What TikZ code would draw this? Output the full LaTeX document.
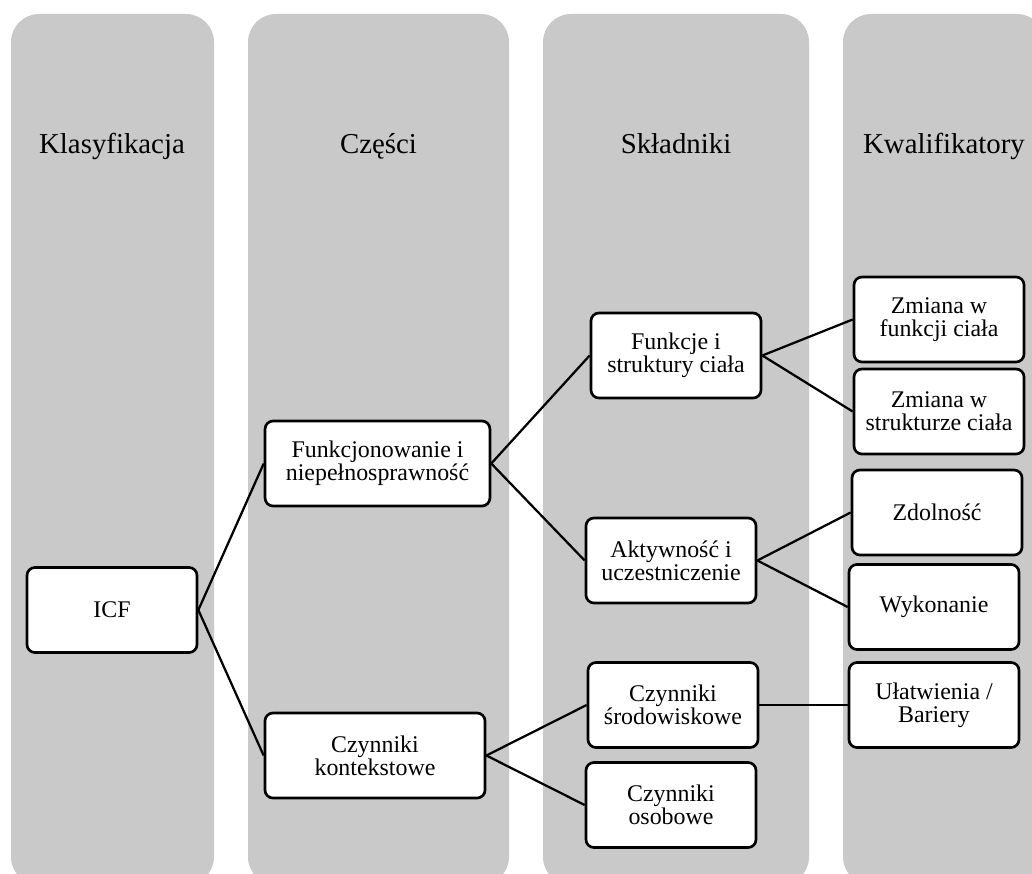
\documentclass[tikz,border=0pt]{standalone}
\usepackage{fontspec}
\setmainfont{Liberation Serif}
\usepackage{tikz}
\definecolor{lanegray}{RGB}{201,201,201}

\begin{document}
\begin{tikzpicture}[x=0.025cm, y=-0.025cm,
                    lane/.style={fill=lanegray, rounded corners=0.7cm},
                    lanetitle/.style={anchor=base, font=\fontsize{20.5}{24}\selectfont},
                    box/.style={draw, line width=1.9pt, fill=white, rounded corners=0.2cm,
                                align=center, minimum width=4.25cm, minimum height=2.125cm,
                                inner sep=1pt, font=\fontsize{17}{16.5}\selectfont},
                    widebox/.style={box, minimum width=5.55cm},
                    link/.style={line width=1.6pt}]
    \useasboundingbox (0,0) rectangle (1032,874);
    \begin{scope}
        \clip (0,0) rectangle (1032,874);
        \fill[lane] (11,14) rectangle (214,885);
        \fill[lane] (248,14) rectangle (509,885);
        \fill[lane] (543,14) rectangle (809,885);
        \fill[lane] (843,14) rectangle (1045,885);
    \end{scope}
    \node[lanetitle] (klas) at (112,153) {Klasyfikacja};
    \node[lanetitle] (czesci) at (378.5,153) {Części};
    \node[lanetitle] (skladniki) at (676,153) {Składniki};
    \node[lanetitle] (kwal) at (944,153) {Kwalifikatory};

    \node[box] (icf) at (112,610) {ICF};
    \node[widebox, minimum width=5.62cm] (funk) at (377.5,463.5) {Funkcjonowanie i\\niepełnosprawność};
    \node[widebox, minimum width=5.5cm] (kont) at (375,755.5) {Czynniki\\kontekstowe};
    \node[box] (ciala) at (676,355.5) {Funkcje i\\struktury ciała};
    \node[box] (aktyw) at (671,560.5) {Aktywność i\\uczestniczenie};
    \node[box] (srod) at (673,705) {Czynniki\\środowiskowe};
    \node[box] (osob) at (671,805) {Czynniki\\osobowe};
    \node[box] (zfunk) at (939,319.5) {Zmiana w\\funkcji ciała};
    \node[box] (zstruk) at (939,411.5) {Zmiana w\\strukturze ciała};
    \node[box] (zdol) at (937,512.5) {Zdolność};
    \node[box] (wyk) at (934,607) {Wykonanie};
    \node[box] (bar) at (934,705) {Ułatwienia /\\Bariery};

    \draw[link] (icf.east) -- (funk.west);
    \draw[link] (icf.east) -- (kont.west);
    \draw[link] (funk.east) -- (ciala.west);
    \draw[link] (funk.east) -- (aktyw.west);
    \draw[link] (kont.east) -- (srod.west);
    \draw[link] (kont.east) -- (osob.west);
    \draw[link] (ciala.east) -- (zfunk.west);
    \draw[link] (ciala.east) -- (zstruk.west);
    \draw[link] (aktyw.east) -- (zdol.west);
    \draw[link] (aktyw.east) -- (wyk.west);
    \draw[link] (srod.east) -- (bar.west);
\end{tikzpicture}
\end{document}
